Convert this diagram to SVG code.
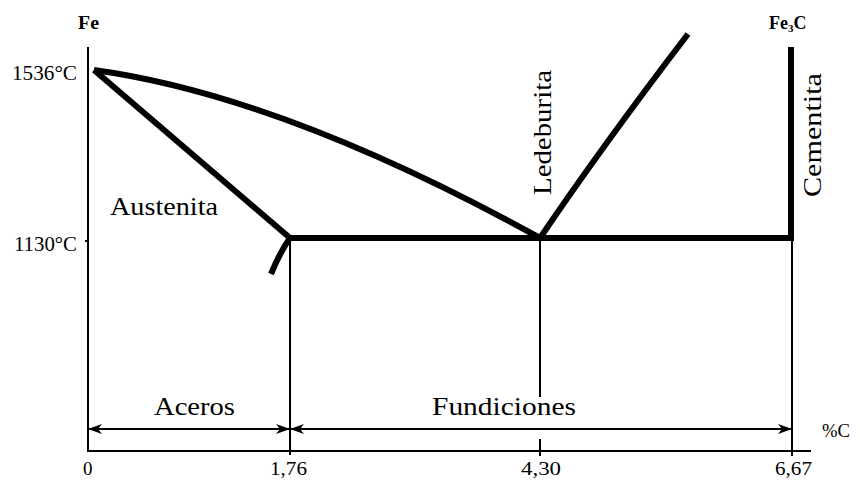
<svg xmlns="http://www.w3.org/2000/svg" width="860" height="481" viewBox="0 0 860 481">
<defs>
<style>
.t{font-family:"Liberation Serif","DejaVu Serif",serif;fill:#000}
.big{font-size:26px}
.num{font-size:21px}
.bot{font-size:19px}
.thick{stroke:#000;stroke-width:6;fill:none}
.thin{stroke:#000;stroke-width:2;fill:none}
</style>
<marker id="ahb" viewBox="0 0 14 10" refX="14" refY="5" markerWidth="14" markerHeight="10" orient="auto-start-reverse" markerUnits="userSpaceOnUse">
<path d="M0,0 L14,5 L0,10 L4,5 Z" fill="#000"/>
</marker>
</defs>
<rect width="860" height="481" fill="#fff"/>
<g id="axes">
<line class="thin" x1="88" y1="47" x2="88" y2="452"/>
<line class="thin" x1="88" y1="451" x2="811" y2="451"/>
<line class="thin" x1="85" y1="241" x2="88" y2="241"/>
</g>
<g id="connectors">
<path id="liquidus-left" class="thick" d="M94,70 Q283,96 540,238"/>
<path id="solidus" class="thick" d="M94,70 L290,238"/>
<path id="short" class="thick" d="M290,238 Q280,252 271,274"/>
<path id="eutectic" class="thick" d="M288,238 L794,238"/>
<path id="liquidus-right" class="thick" d="M540,238 Q603,145 688,34"/>
<path id="cementite" class="thick" d="M791,47 L791,241"/>
<line class="thin" x1="290" y1="238" x2="290" y2="455"/>
<line class="thin" x1="540" y1="238" x2="540" y2="397"/>
<line class="thin" x1="540" y1="439" x2="540" y2="456"/>
<line class="thin" x1="792" y1="238" x2="792" y2="456"/>
<line class="thin" x1="88" y1="429" x2="290" y2="429" marker-start="url(#ahb)" marker-end="url(#ahb)"/>
<line class="thin" x1="290" y1="429" x2="792" y2="429" marker-start="url(#ahb)" marker-end="url(#ahb)"/>
</g>
<g id="labels">
<text class="t" x="78" y="29" font-size="18" font-weight="bold" textLength="21" lengthAdjust="spacingAndGlyphs">Fe</text>
<text class="t" x="769" y="29" font-size="18" font-weight="bold">Fe<tspan font-size="11" dy="3">3</tspan><tspan dy="-3">C</tspan></text>
<text class="t num" x="12" y="80" textLength="65" lengthAdjust="spacingAndGlyphs">1536°C</text>
<text class="t num" x="14" y="251" textLength="63" lengthAdjust="spacingAndGlyphs">1130°C</text>
<text class="t big" x="110" y="215" textLength="108" lengthAdjust="spacingAndGlyphs">Austenita</text>
<text class="t big" x="0" y="0" transform="translate(551,195) rotate(-90)" textLength="125" lengthAdjust="spacingAndGlyphs">Ledeburita</text>
<text class="t big" x="0" y="0" transform="translate(821,197) rotate(-90)" textLength="124" lengthAdjust="spacingAndGlyphs">Cementita</text>
<text class="t big" x="154" y="415" textLength="81" lengthAdjust="spacingAndGlyphs">Aceros</text>
<text class="t big" x="432" y="415" textLength="144" lengthAdjust="spacingAndGlyphs">Fundiciones</text>
<text class="t" x="822" y="437" font-size="19" textLength="28" lengthAdjust="spacingAndGlyphs">%C</text>
<text class="t bot" x="83" y="475">0</text>
<text class="t bot" x="270" y="475" textLength="37" lengthAdjust="spacingAndGlyphs">1,76</text>
<text class="t bot" x="521" y="475" textLength="40" lengthAdjust="spacingAndGlyphs">4,30</text>
<text class="t bot" x="775" y="475" textLength="37" lengthAdjust="spacingAndGlyphs">6,67</text>
</g>
</svg>
